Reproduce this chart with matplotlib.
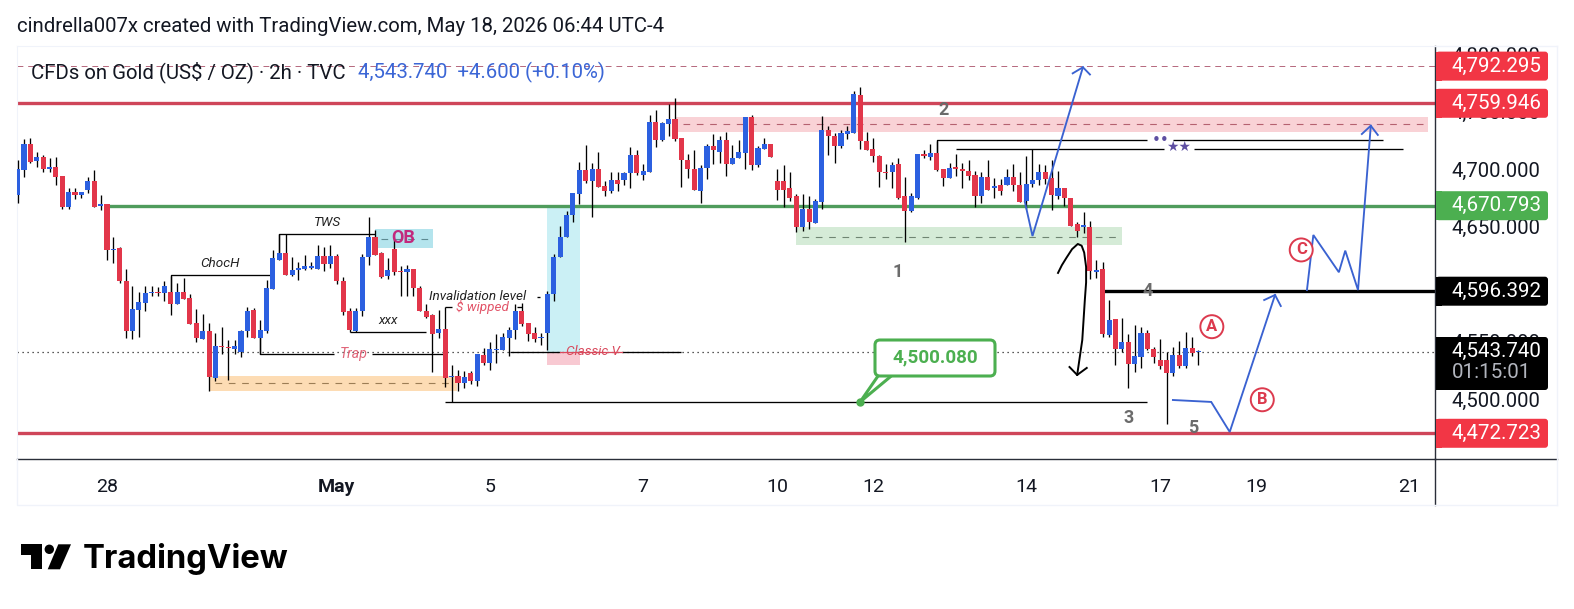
import numpy as np
import matplotlib
matplotlib.use("Agg")
import matplotlib.pyplot as plt
from matplotlib.patches import FancyBboxPatch, Polygon, Rectangle, Circle
from matplotlib.transforms import ScaledTranslation

plt.rcParams['font.family'] = ['Roboto', 'DejaVu Sans']

# candles, 2h bars
opens = [4679,4701,4724,4709,4712,4702,4704,4696,4669,4682,
    4679,4684,4691,4670,4671,4631,4633,4604,4561,4579,
    4585,4594,4595,4594,4595,4584,4595,4590,4568,4554,
    4561,4520,4547.5,4547,4545,4543,4561,4579,4555,4561,
    4597,4623,4629,4610,4614,4615,4616,4615,4626,4619,
    4626,4604,4578,4561,4578,4625,4643,4629,4609,4632,
    4613,4612,4615,4598,4578,4575,4559,4563,4520.5,4522,
    4516,4524,4517,4540,4533,4544,4544,4555,4562,4578,
    4568,4559,4555,4559,4593,4625,4643,4662,4680,4701,
    4691,4702,4687,4683,4692,4692,4698,4714,4697,4699,
    4743,4727,4741,4745,4729,4710,4702,4683,4703,4722,
    4717,4727,4706,4711,4716,4747,4705,4719,4724,4691,
    4691,4685,4678,4651,4667,4655,4673,4736,4731,4722,
    4732,4733,4766,4726,4719,4713,4699,4699,4706,4678,
    4665,4677,4715,4712,4716,4702,4694,4704,4702,4700,
    4697,4678,4695,4685,4688,4688,4695,4688,4674,4689,
    4692,4699,4694,4678,4685,4677,4654,4651,4651,4612,
    4615,4557,4571,4545,4551,4532,4538,4559,4545,4536,
    4536,4524,4540,4530,4546,4542.2]
closes = [4702,4724,4708,4712,4702,4704,4695,4669,4682,4679,
    4681.5,4691,4669,4670.6,4631,4632,4604,4561,4580,4586,
    4594,4595,4594,4600,4584,4595,4589,4567,4555,4561,
    4521,4548,4546.8,4546,4548,4561,4578,4555,4562,4598,
    4624,4629,4610,4614,4616,4617,4617,4626,4619,4626,
    4604,4577,4562,4578,4625,4643,4627,4608,4614,4612,
    4612,4615,4598,4578,4573,4558,4563,4520,4521,4516,
    4521,4517,4541,4533,4545,4545,4556,4562,4578,4567,
    4558,4554,4556,4593,4625,4643,4662,4681,4701,4691,
    4702,4686,4683,4692,4689,4698,4714,4698,4700,4743,
    4727,4742,4745,4728,4710,4702,4684,4703,4722,4718,
    4727,4706,4711,4717,4747,4705,4720,4724,4712,4684,
    4684,4677,4651,4667,4656,4674,4736,4731,4722,4733,
    4735,4767,4726,4718,4713,4699,4698,4705,4677,4665,
    4678,4715,4713,4716,4701,4694,4703,4702,4700,4696,
    4678,4695,4684,4687,4683,4695,4688,4673,4689,4692,
    4699,4693,4679,4685,4677,4652,4648,4653,4613,4614,
    4558,4570,4545,4551,4532,4539,4559,4545,4538,4530,
    4524,4540,4530,4546,4542,4542.84]
highs = [4710,4728,4729,4717,4714,4711,4712,4696,4685,4685,
    4682,4695,4701,4679,4671,4643,4634,4615,4600,4595,
    4600,4600,4599,4604,4609,4603,4607,4593,4580,4576,
    4568,4559,4564,4553,4553,4562,4582,4581,4570,4605,
    4631,4645,4645,4625,4621,4627,4621,4636,4634,4636,
    4628,4608,4581,4581,4628,4660,4649,4630,4624,4641,
    4617,4618,4615,4600,4584,4576,4579,4582,4531,4527,
    4526,4526,4541,4546,4551,4558,4559,4564,4584,4585,
    4568,4564,4559,4596,4628,4652,4665,4681,4708,4723,
    4707,4717,4691,4699,4699,4699,4721,4718,4706,4749,
    4753,4743,4758,4764,4729,4715,4718,4705,4724,4732,
    4731,4734,4723,4727,4747,4749,4722,4729,4724,4702,
    4705,4699,4680,4680,4678,4676,4748,4739,4733,4736,
    4739,4770,4773,4734,4729,4714,4706,4708,4711,4695,
    4681,4715,4718,4724,4726,4702,4707,4715,4707,4710,
    4700,4699,4710,4694,4693,4702,4706,4699,4713,4719,
    4706,4705,4710,4700,4685,4677,4656,4664,4657,4623,
    4621,4588,4571,4572,4558,4566,4564,4562,4547,4554,
    4543,4547,4552,4560,4556,4544]
lows = [4672,4695,4707,4704,4699,4699,4688,4667,4667,4676,
    4677,4681,4669,4666,4623,4620,4603,4555,4554,4556,
    4578,4591,4591,4587,4575,4584,4589,4567,4551,4554,
    4509,4517,4541,4518,4541,4538,4556,4555,4541,4559,
    4597,4623,4610,4609,4605,4614,4615,4615,4613,4616,
    4602,4575,4560,4560,4574,4618,4627,4607,4606,4610,
    4591,4591,4591,4578,4572,4525,4555,4512,4499,4509,
    4511,4515,4513,4531,4527,4533,4544,4539,4554,4565,
    4552,4551,4549,4544,4587,4625,4643,4656,4671,4690,
    4660,4686,4678,4681,4683,4688,4685,4697,4692,4699,
    4721,4726,4731,4726,4686,4694,4684,4672,4693,4706,
    4707,4696,4706,4711,4702,4701,4704,4719,4712,4675,
    4669,4674,4647,4648,4650,4655,4667,4714,4707,4720,
    4728,4733,4719,4718,4708,4686,4693,4685,4676,4638,
    4664,4676,4711,4710,4700,4687,4694,4696,4685,4692,
    4669,4672,4684,4677,4679,4688,4683,4673,4667,4686,
    4688,4689,4666,4676,4670,4652,4643,4646,4606,4607,
    4556,4556,4531,4543,4511,4525,4529,4544,4533,4528,
    4480,4522,4529,4529,4539,4531]

# my read of the price scale came out a bit low
READ_SHIFT = 0.9

level_top = 4792.295
level_red = 4759.946
level_green = 4670.793
level_black = 4596.392
level_last = 4543.740
level_low = 4472.723
level_callout = 4500.080

price_ticks = [4800, 4750, 4700, 4650, 4600, 4550, 4500]
price_tick_labels = ["4,800.000", "4,750.000", "4,700.000", "4,650.000",
                     "4,600.000", "4,550.000", "4,500.000"]
date_ticks = [14, 50, 74, 98, 119, 134, 158, 179, 194, 218]
date_labels = ["28", "May", "5", "7", "10", "12", "14", "17", "19", "21"]

# drawn zones: bar from, bar to, price low, price high, colour, dash level
zones = [
    (103.2, 221.0, 4735.0, 4747.6, "#f9d2d6", 4741.6, "#b5616f"),
    (121.9, 173.1, 4636.6, 4652.0, "#d5ebd7", 4643.8, "#6f8572"),
    (56.0, 65.1, 4634.0, 4650.5, "#b4e4ed", 4642.0, "#5d8a92"),
    (30.0, 68.8, 4509.5, 4522.6, "#fddcb4", 4516.5, "#9c7d55"),
    (82.9, 88.1, 4543.5, 4669.7, "#cbf0f5", None, None),
    (82.9, 88.1, 4532.0, 4543.5, "#f8c9d2", None, None),
]

# thin black tool lines, (bars), (prices)
black_segments = [
    ((24.1, 24.1, 40.0), (4593.0, 4610.2, 4610.2)),
    ((41.0, 41.0, 56.0), (4627.0, 4645.9, 4645.9)),
    ((38.0, 38.0, 49.6), (4558.0, 4541.5, 4541.5)),
    ((55.5, 67.0), (4541.5, 4541.5)),
    ((52.1, 64.0), (4560.6, 4560.6)),
    ((67.0, 68.0), (4582.9, 4582.9)),
    ((78.2, 79.0), (4582.9, 4582.9)),
    ((81.4, 81.9), (4591.6, 4591.6)),
    ((77.1, 85.0), (4543.9, 4543.9)),
    ((94.7, 104.0), (4543.9, 4543.9)),
    ((67.0, 177.0), (level_callout, level_callout)),
    ((144.1, 144.1, 177.0), (4716.0, 4727.6, 4727.6)),
    ((181.0, 213.9), (4727.6, 4727.6)),
    ((147.0, 179.6), (4719.9, 4719.9)),
    ((184.3, 217.0), (4719.9, 4719.9)),
]

# blue forecast arrows
blue_paths = [
    ((157.8, 159.0, 166.9), (4674.3, 4644.4, 4791.3)),
    ((165.3, 166.9, 168.0), (4786.0, 4791.3, 4785.0)),
    ((181.0, 187.0, 189.9, 197.0), (4501.7, 4500.0, 4473.9, 4593.1)),
    ((195.3, 197.0, 197.9), (4588.7, 4593.1, 4583.5)),
    ((202.0, 203.0, 207.0, 208.0, 210.0, 212.0), (4597.4, 4645.3, 4612.9, 4631.7, 4597.4, 4740.4)),
    ((210.6, 212.0, 213.1), (4733.2, 4740.4, 4732.4)),
]

curve_bars = [163.0, 163.6, 164.3, 165.2, 166.1, 166.7, 167.1, 167.4, 167.4, 167.2, 166.8, 166.0]
curve_prices = [4612.3, 4619.0, 4625.3, 4633.0, 4637.5, 4636.0, 4630.0, 4617.5, 4604.0, 4588.7, 4553.9, 4523.5]
curve_head_bars = [164.8, 166.0, 167.5]
curve_head_prices = [4530.4, 4523.5, 4529.6]

wave_numbers = [("1", 137.9, 4613.1), ("2", 145.0, 4754.0), ("3", 174.0, 4486.0),
                ("4", 177.0, 4596.6), ("5", 184.1, 4477.6)]
wave_letters = [("A", 187.1, 4565.5), ("B", 195.0, 4501.9), ("C", 201.1, 4632.3)]

W, H = 1574, 609
LEFT, RIGHT, TOP, BOTTOM = 17, 1435, 46, 459
BLUE = "#2c60e0"
RED = "#e2364a"
TOOL_BLUE = "#3a62d1"
INK = "#131722"

fig = plt.figure(figsize=(W / 100, H / 100), dpi=100, facecolor="white")
ax = fig.add_axes([LEFT / W, 1 - BOTTOM / H, (RIGHT - LEFT) / W, (BOTTOM - TOP) / H])
ax.set_xlim(-0.094, 222.06)
ax.set_ylim(4450.34, 4809.8)

for sp in ["top", "left"]:
    ax.spines[sp].set_color("#f0f3fa")
ax.spines["right"].set_color("#2a2e39")
ax.spines["bottom"].set_color("#2a2e39")
ax.spines["right"].set_linewidth(1.0)
ax.spines["bottom"].set_linewidth(1.0)

# zones first so the candles sit on top
for b0, b1, p0, p1, col, dash_at, dash_col in zones:
    ax.add_patch(Rectangle((b0, p0), b1 - b0, p1 - p0, fc=col, ec="none", zorder=1))
    if dash_at is not None:
        ax.plot([b0 + 1, b1 - 0.5], [dash_at, dash_at], color=dash_col, lw=0.8,
                dashes=(6, 6), zorder=1.5)

ax.axhline(level_top, color="#b5677c", lw=0.7, dashes=(6, 5), zorder=2)
ax.axhline(level_red, color="#cf4559", lw=2.4, zorder=2)
ax.axhline(level_low, color="#cf4559", lw=2.4, zorder=2)
ax.hlines(level_green, 14, 222.06, color="#4f9c5c", lw=2.4, zorder=2)
ax.hlines(level_black, 170, 222.06, color="black", lw=2.4, zorder=2)
ax.axhline(level_last, color="#222222", lw=0.9, dashes=(1, 3), zorder=2)

for xs, ys in black_segments:
    ax.plot(xs, ys, color="black", lw=0.95, zorder=2.2, solid_capstyle="butt")
ax.plot([85.0, 94.7], [4543.9, 4543.9], color="#d9495c", lw=0.9, zorder=2.2)

o = np.array(opens) + READ_SHIFT
c = np.array(closes) + READ_SHIFT
h = np.array(highs) + READ_SHIFT
l = np.array(lows) + READ_SHIFT
bars = np.arange(len(o))
colors = [BLUE if c[i] >= o[i] else RED for i in bars]

ax.vlines(bars, l, h, color="black", lw=0.95, zorder=3)
ax.bar(bars, np.maximum(np.abs(c - o), 1.0), bottom=np.minimum(o, c), width=0.8,
       color=colors, lw=0, zorder=4)

for xs, ys in blue_paths:
    ax.plot(xs, ys, color=TOOL_BLUE, lw=1.35, zorder=5, solid_joinstyle="miter")
ax.plot(curve_bars, curve_prices, color="black", lw=1.4, zorder=5)
ax.plot(curve_head_bars, curve_head_prices, color="black", lw=1.4, zorder=5)

# callout pointer, the box itself goes on the overlay
ax.add_patch(Polygon([(132.0, level_callout), (135.1, 4525.0), (137.4, 4525.0)],
                     fc="white", ec="#4caf50", lw=2.2, zorder=6))
ax.plot([132.0], [level_callout], "o", color="#4caf50", ms=5, zorder=7)

it = dict(style="italic", ha="center", va="center", zorder=6)
ax.text(31.7, 4620.7, "ChocH", fontsize=9.7, color="#222222", **it)
ax.text(48.6, 4656.0, "TWS", fontsize=9.7, color="#222222", **it)
ax.text(58.0, 4570.5, "xxx", fontsize=9.7, color="#222222", **it)
ax.text(52.6, 4542.0, "Trap", fontsize=10.2, color="#e0667a", **it)
ax.text(72.1, 4591.6, "Invalidation level", fontsize=9.7, color="#222222", **it)
ax.text(72.9, 4582.9, "$ wipped", fontsize=9.7, color="#e2566a", **it)
ax.text(90.1, 4543.9, "Classic V", fontsize=9.7, color="#d9495c", **it)
ax.text(60.4, 4642.7, "OB", fontsize=13, color="#c2287c", weight="bold",
        ha="center", va="center", zorder=6)

ax.text(179.1, 4727.6, "••", fontsize=11, color="#5e4fa2", ha="center", va="center",
        family=["DejaVu Sans"], zorder=6)
ax.text(181.9, 4721.9, "★★", fontsize=10, color="#5e4fa2", ha="center", va="center",
        family=["DejaVu Sans"], zorder=6)

for txt, b, p in wave_numbers:
    ax.text(b, p, txt, fontsize=13, weight="bold", color="#6b6b6b", ha="center", va="center", zorder=6)
for txt, b, p in wave_letters:
    ax.text(b, p, txt, fontsize=12, weight="bold", color="#dc3a4e", ha="center", va="center", zorder=6,
            bbox=dict(boxstyle="circle,pad=0.24", fc="white", ec="#dc3a4e", lw=1.4))

# price axis on the right, labels sit a little high like on the screenshot
ax.yaxis.tick_right()
ax.set_yticks(price_ticks)
ax.set_yticklabels(price_tick_labels)
ax.tick_params(axis="y", length=0, pad=12, labelsize=14.6, labelcolor=INK)
for lbl in ax.get_yticklabels():
    lbl.set_transform(lbl.get_transform() + ScaledTranslation(0, 3 / 100, fig.dpi_scale_trans))

ax.set_xticks(date_ticks)
ax.set_xticklabels(date_labels)
ax.tick_params(axis="x", length=0, pad=14, labelsize=14, labelcolor=INK)
ax.get_xticklabels()[1].set_fontweight("bold")

# overlay in screen pixels for the labels, header and logo
ov = fig.add_axes([0, 0, 1, 1], zorder=10)
ov.set_xlim(0, W)
ov.set_ylim(H, 0)
ov.axis("off")
ov.patch.set_alpha(0)


def price_y(price):
    return H - ax.transData.transform((0, price))[1]


def price_tag(price, text, col, top=None, bottom=None):
    y = price_y(price)
    y0 = y - 14.5 if top is None else top
    y1 = y + 14.5 if bottom is None else bottom
    ov.add_patch(FancyBboxPatch((1439, y0 + 3), 106, y1 - y0 - 6, boxstyle="round,pad=3,rounding_size=3",
                                fc=col, ec="none"))
    ov.add_patch(Rectangle((1436, y0), 6, y1 - y0, fc=col, ec="none"))
    ov.text(1452, y, text, color="white", fontsize=14.8, va="center", ha="left")


price_tag(level_top, "4,792.295", "#f23645")
price_tag(level_red, "4,759.946", "#f23645")
price_tag(level_green, "4,670.793", "#4caf50")
price_tag(level_black, "4,596.392", "black")
price_tag(level_low, "4,472.723", "#f23645")
price_tag(level_last, "4,543.740", "black", top=337, bottom=390)
ov.text(1452, 373, "01:15:01", color="#b2b5be", fontsize=14.8, va="center", ha="left")

# light frame around the widget
ov.plot([1435, 1557], [459, 459], color="#2a2e39", lw=1.0)
ov.plot([1435, 1435], [459, 505], color="#2a2e39", lw=1.0)
ov.plot([1557, 1557], [46, 505], color="#f0f3fa", lw=1.0)
ov.plot([17, 17, 1557], [459, 505, 505], color="#f0f3fa", lw=1.0)
ov.plot([1435, 1557], [46, 46], color="#f0f3fa", lw=1.0)

ov.add_patch(FancyBboxPatch((878, 343), 114, 30, boxstyle="round,pad=3,rounding_size=5",
                            fc="white", ec="#4caf50", lw=2.2))
ov.text(935, 357, "4,500.080", color="#4caf50", fontsize=13.6, weight="bold", ha="center", va="center")

ov.text(17, 26.5, "cindrella007x created with TradingView.com, May 18, 2026 06:44 UTC-4",
        color=INK, fontsize=14.65, va="center", ha="left")
ov.text(31, 72, "CFDs on Gold (US$ / OZ) · 2h · TVC", color=INK, fontsize=14.65, va="center", ha="left")
ov.text(358, 72, "4,543.740  +4.600 (+0.10%)", color="#3b66d6", fontsize=14.65, va="center", ha="left")

# TradingView mark
ov.add_patch(Polygon([(20.7, 544.3), (42.3, 544.3), (42.3, 569.3), (30.7, 569.3), (30.7, 555), (20.7, 555)],
                     fc="black", ec="none"))
ov.add_patch(Circle((49.3, 549.3), 4.7, fc="black", ec="none"))
ov.add_patch(Polygon([(58.3, 544.3), (71, 544.3), (60, 569.3), (47.7, 569.3)], fc="black", ec="none"))
ov.text(83, 559, "TradingView", color="black", fontsize=23.7, family=["Inter", "DejaVu Sans"],
        weight="bold", va="center", ha="left")

fig.savefig("out.png", dpi=100, facecolor="white")
